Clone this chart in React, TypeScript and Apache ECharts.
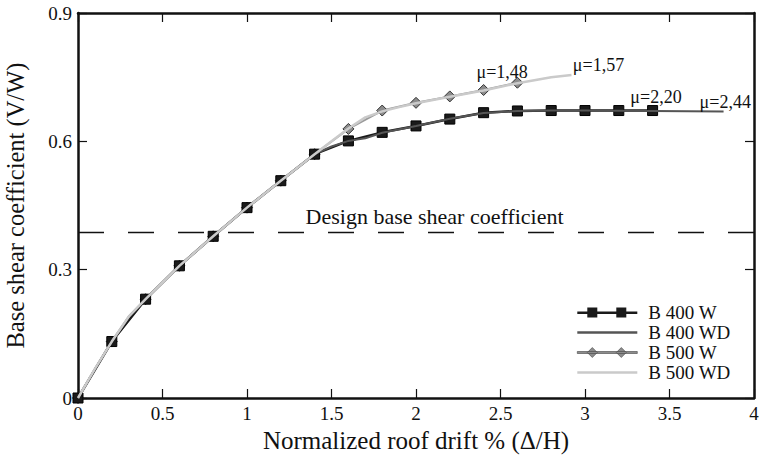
import React, { useEffect, useRef } from "react";
import * as echarts from "echarts";

// ---- data ----
const b400wX = [0, 0.2, 0.4, 0.6, 0.8, 1.0, 1.2, 1.4, 1.6, 1.8, 2.0, 2.2, 2.4, 2.6, 2.8, 3.0, 3.2, 3.4];
const b400wY = [0, 0.132, 0.231, 0.309, 0.378, 0.445, 0.508, 0.57, 0.601, 0.621, 0.636, 0.652, 0.667, 0.671, 0.672, 0.672, 0.672, 0.672];

const b400wdX = [0, 0.1, 0.2, 0.3, 0.4, 0.6, 0.8, 1.0, 1.2, 1.4, 1.5, 1.6, 1.65, 1.7, 1.8, 2.0, 2.2, 2.4, 2.6, 2.8, 3.0, 3.4, 3.82];
const b400wdY = [0, 0.068, 0.132, 0.19, 0.231, 0.309, 0.378, 0.445, 0.508, 0.57, 0.588, 0.601, 0.604, 0.607, 0.62, 0.636, 0.653, 0.666, 0.671, 0.672, 0.672, 0.671, 0.67];

const b500wX = [0, 0.2, 0.4, 0.6, 0.8, 1.0, 1.2, 1.4, 1.6, 1.8, 2.0, 2.2, 2.4, 2.6];
const b500wY = [0, 0.132, 0.231, 0.309, 0.378, 0.445, 0.508, 0.57, 0.629, 0.672, 0.69, 0.705, 0.72, 0.737];

const b500wdX = [0, 0.1, 0.2, 0.3, 0.4, 0.6, 0.8, 1.0, 1.2, 1.4, 1.5, 1.6, 1.7, 1.8, 1.9, 2.0, 2.2, 2.4, 2.6, 2.7, 2.8, 2.92];
const b500wdY = [0, 0.068, 0.132, 0.19, 0.231, 0.309, 0.378, 0.445, 0.508, 0.57, 0.6, 0.63, 0.656, 0.67, 0.68, 0.689, 0.704, 0.719, 0.736, 0.743, 0.75, 0.755];

const designCoefficient = 0.388;
const designLabel = "Design base shear coefficient";
const designLabelPos = [2.11, 0.425];

const muLabels400 = [
  { text: "μ=2,20", x: 3.42, y: 0.704 },
  { text: "μ=2,44", x: 3.83, y: 0.692 },
];
const muLabels500 = [
  { text: "μ=1,48", x: 2.51, y: 0.762 },
  { text: "μ=1,57", x: 3.08, y: 0.778 },
];

const seriesNames = ["B 400 W", "B 400 WD", "B 500 W", "B 500 WD"];
const xTicks = { min: 0, max: 4, interval: 0.5 };
const yTicks = { min: 0, max: 0.9, interval: 0.3 };

const FONT = "Liberation Serif";
const INK = "#111";

const ICON_SQUARES = "path://M0,4H60V6.5H0Z M10,0H20V10H10Z M39,0H49V10H39Z";
const ICON_DIAMONDS = "path://M0,4H60V6H0Z M15,0L20,5L15,10L10,5Z M44,0L49,5L44,10L39,5Z";
const ICON_LINE = "path://M0,0H60V2.5H0Z";

function zip(xs: number[], ys: number[]) {
  return xs.map((x, i) => [x, ys[i]]);
}

function textMarks(list: { text: string; x: number; y: number }[]) {
  return list.map((m) => ({
    coord: [m.x, m.y],
    value: m.text,
    label: { formatter: m.text },
  }));
}

export default function App() {
  const ref = useRef<HTMLDivElement>(null);
  useEffect(() => {
    if (!ref.current) return;
    document.body.style.margin = "0";
    const chart = echarts.init(ref.current, null, { renderer: "svg" });
    const axisLineStyle = { color: INK, width: 2.5 };
    const tickStyle = { color: INK, width: 1.2 };
    const markText = {
      symbol: "circle",
      symbolSize: 1,
      silent: true,
      itemStyle: { color: "rgba(0,0,0,0)" },
      label: {
        show: true,
        position: "inside",
        color: INK,
        fontFamily: FONT,
        fontSize: 18,
      },
    };
    const option: any = {
      animation: false,
      backgroundColor: "#fff",
      textStyle: { fontFamily: FONT },
      grid: { left: 78, right: 7, top: 13, bottom: 60, containLabel: false, outerBoundsMode: "none" },
      legend: {
        data: [
          { name: seriesNames[0], icon: ICON_SQUARES, itemStyle: { borderWidth: 0 } },
          { name: seriesNames[1], icon: ICON_LINE },
          { name: seriesNames[2], icon: ICON_DIAMONDS, itemStyle: { borderWidth: 0.6, borderColor: "#444" } },
          { name: seriesNames[3], icon: ICON_LINE },
        ],
        orient: "vertical",
        left: 577,
        top: 303,
        padding: 0,
        itemWidth: 60,
        itemHeight: 10,
        itemGap: 1,
        symbolKeepAspect: true,
        textStyle: { fontFamily: FONT, fontSize: 19, color: INK, padding: [0, 0, 0, 6] },
      },
      xAxis: [
        {
          type: "value",
          position: "bottom",
          ...xTicks,
          name: "Normalized roof drift % (Δ/H)",
          nameLocation: "middle",
          nameGap: 29,
          nameTextStyle: { fontFamily: FONT, fontSize: 25, color: INK },
          axisLine: { onZero: false, lineStyle: axisLineStyle },
          axisTick: { inside: true, length: 9, lineStyle: tickStyle },
          axisLabel: {
            margin: 6,
            fontFamily: FONT,
            fontSize: 19,
            color: INK,
            formatter: (v: number) => String(+v.toFixed(1)),
          },
          splitLine: { show: false },
        },
        {
          type: "value",
          position: "top",
          ...xTicks,
          axisLine: { onZero: false, lineStyle: axisLineStyle },
          axisTick: { inside: true, length: 9, lineStyle: tickStyle },
          axisLabel: { show: false },
          splitLine: { show: false },
        },
      ],
      yAxis: [
        {
          type: "value",
          position: "left",
          ...yTicks,
          name: "Base shear coefficient (V/W)",
          nameLocation: "middle",
          nameGap: 50,
          nameTextStyle: { fontFamily: FONT, fontSize: 24.5, color: INK },
          axisLine: { onZero: false, lineStyle: axisLineStyle },
          axisTick: { inside: true, length: 9, lineStyle: tickStyle },
          axisLabel: {
            margin: 6,
            fontFamily: FONT,
            fontSize: 19,
            color: INK,
            formatter: (v: number) => String(+v.toFixed(1)),
          },
          splitLine: { show: false },
        },
        {
          type: "value",
          position: "right",
          ...yTicks,
          axisLine: { onZero: false, lineStyle: axisLineStyle },
          axisTick: { inside: true, length: 9, lineStyle: tickStyle },
          axisLabel: { show: false },
          splitLine: { show: false },
        },
      ],
      series: [
        {
          name: "B 500 W",
          type: "line",
          z: 2,
          data: zip(b500wX, b500wY),
          symbol: "diamond",
          symbolSize: 11,
          showAllSymbol: true,
          lineStyle: { color: "#9a9a9a", width: 2 },
          itemStyle: { color: "#8c8c8c", borderColor: "#333", borderWidth: 1 },
          markPoint: { ...markText, data: textMarks(muLabels500) },
        },
        {
          name: "B 400 W",
          type: "line",
          z: 3,
          data: zip(b400wX, b400wY),
          symbol: "rect",
          symbolSize: 10,
          showAllSymbol: true,
          lineStyle: { color: "#1a1a1a", width: 2.5 },
          itemStyle: { color: "#1a1a1a", borderColor: "#000", borderWidth: 1 },
          markPoint: {
            ...markText,
            data: [
              ...textMarks(muLabels400),
              {
                coord: designLabelPos,
                value: designLabel,
                label: { formatter: designLabel, fontSize: 22 },
              },
            ],
          },
          markLine: {
            silent: true,
            symbol: ["none", "none"],
            label: { show: false },
            lineStyle: { color: INK, width: 1.3, type: [26, 24] },
            data: [[{ coord: [xTicks.min, designCoefficient] }, { coord: [xTicks.max, designCoefficient] }]],
          },
        },
        {
          name: "B 400 WD",
          type: "line",
          z: 4,
          data: zip(b400wdX, b400wdY),
          symbol: "none",
          lineStyle: { color: "#555", width: 2 },
          itemStyle: { color: "#555" },
        },
        {
          name: "B 500 WD",
          type: "line",
          z: 5,
          data: zip(b500wdX, b500wdY),
          symbol: "none",
          lineStyle: { color: "#cacaca", width: 2.5 },
          itemStyle: { color: "#cacaca" },
        },
      ],
    };
    chart.setOption(option);
    return () => chart.dispose();
  }, []);
  return <div ref={ref} style={{ width: 761, height: 458 }} />;
}
